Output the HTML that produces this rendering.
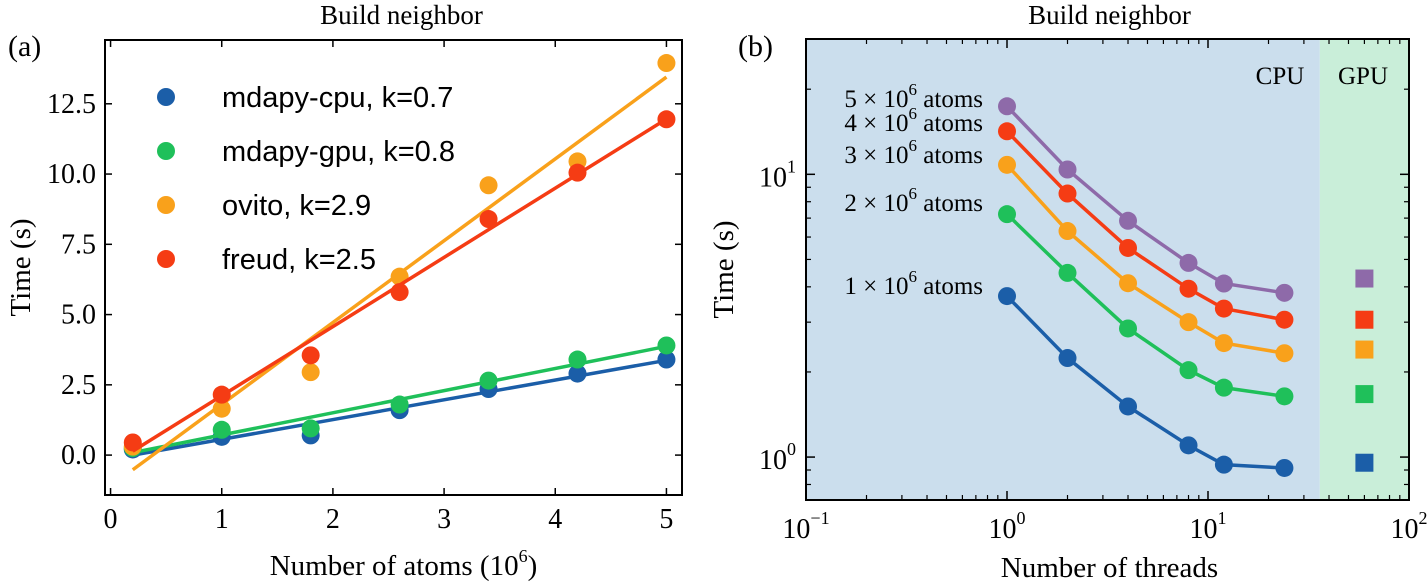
<!DOCTYPE html>
<html><head><meta charset="utf-8"><style>
html,body{margin:0;padding:0;background:#fff;}
svg{display:block;font-family:"Liberation Serif",serif;}
</style></head><body>
<svg id="chart" width="1428" height="583" viewBox="0 0 1428 583" xmlns="http://www.w3.org/2000/svg">
<g id="pa"></g>
<g id="pb"></g>
</svg>
<script>
// ---- Panel (a) data ----
const atomsX = [0.2, 1, 1.8, 2.6, 3.4, 4.2, 5];
const cpuTimes = [0.2, 0.65, 0.7, 1.6, 2.35, 2.9, 3.4];
const gpuTimes = [0.25, 0.9, 0.95, 1.8, 2.65, 3.4, 3.9];
const ovitoTimes = [0.3, 1.65, 2.95, 6.35, 9.6, 10.45, 13.95];
const freudTimes = [0.45, 2.15, 3.55, 5.8, 8.4, 10.05, 11.95];
const seriesLabelsA = ["mdapy-cpu, k=0.7", "mdapy-gpu, k=0.8", "ovito, k=2.9", "freud, k=2.5"];
const xTicksA = [0, 1, 2, 3, 4, 5];
const yTicksA = [0, 2.5, 5, 7.5, 10, 12.5];
// ---- Panel (b) data ----
const threads = [1, 2, 4, 8, 12, 24];
const t1M = [3.71, 2.24, 1.51, 1.10, 0.94, 0.915];
const t2M = [7.23, 4.48, 2.85, 2.03, 1.76, 1.64];
const t3M = [10.8, 6.3, 4.12, 3.0, 2.53, 2.33];
const t4M = [14.2, 8.55, 5.49, 3.94, 3.35, 3.06];
const t5M = [17.4, 10.4, 6.85, 4.86, 4.11, 3.81];
const gpuB = [0.955, 1.67, 2.40, 3.06, 4.28];
const gpuX = 60;
const atomLabels = ["1", "2", "3", "4", "5"];

const NS = "http://www.w3.org/2000/svg";
function mk(parent, tag, attrs, text) {
  const e = document.createElementNS(NS, tag);
  for (const k in attrs) e.setAttribute(k, attrs[k]);
  if (text !== undefined) e.textContent = text;
  parent.appendChild(e);
  return e;
}
const cols = ["#1b5ea8", "#1fc05a", "#f9a11b", "#f53c14", "#8e6aa9"];

// ===== Panel A =====
const pa = document.getElementById("pa");
const A = {l:105, r:682, t:40, b:495, xmin:-0.05, xmax:5.14, ymin:-1.42, ymax:14.77};
const ax = v => A.l + (v - A.xmin) / (A.xmax - A.xmin) * (A.r - A.l);
const ay = v => A.b - (v - A.ymin) / (A.ymax - A.ymin) * (A.b - A.t);
let t = mk(pa, "text", {x:(A.l+A.r)/2+8, y:24, "text-anchor":"middle", "font-size":27}, "Build neighbor");


t = mk(pa, "text", {x:8, y:56, "font-size":30}, "(a)");


xTicksA.forEach(v => {
  const x = ax(v);
  let l = mk(pa, "line", {x1:x, x2:x, y1:A.b, y2:A.b-7, stroke:"#000", "stroke-width":1.5});
  
  
  l = mk(pa, "line", {x1:x, x2:x, y1:A.t, y2:A.t+7, stroke:"#000", "stroke-width":1.5});
  
  
  const tx = mk(pa, "text", {x:x, y:528, "text-anchor":"middle", "font-size":28}, String(v));
  
  
});
yTicksA.forEach(v => {
  const y = ay(v);
  let l = mk(pa, "line", {x1:A.l, x2:A.l+7, y1:y, y2:y, stroke:"#000", "stroke-width":1.5});
  
  
  l = mk(pa, "line", {x1:A.r, x2:A.r-7, y1:y, y2:y, stroke:"#000", "stroke-width":1.5});
  
  
  const tx = mk(pa, "text", {x:A.l-9, y:y+9, "text-anchor":"end", "font-size":28}, v.toFixed(1));
  
  
});
t = mk(pa, "text", {x:(A.l+A.r)/2+10, y:575, "text-anchor":"middle", "font-size":29}, "");


mk(t, "tspan", {}, "Number of atoms (10");
mk(t, "tspan", {dy:-13, "font-size":18}, "6");
mk(t, "tspan", {dy:13}, ")");
t = mk(pa, "text", {x:0, y:0, transform:"translate(30,"+((A.t+A.b)/2)+") rotate(-90)", "text-anchor":"middle", "font-size":29}, "Time (s)");



const seriesA = [cpuTimes, gpuTimes, ovitoTimes, freudTimes];
const colA = [cols[0], cols[1], cols[2], cols[3]];
seriesA.forEach((ys, i) => {
  const n = atomsX.length;
  const mx = atomsX.reduce((a,b)=>a+b,0)/n, my = ys.reduce((a,b)=>a+b,0)/n;
  let sxy=0, sxx=0;
  atomsX.forEach((x,j)=>{sxy+=(x-mx)*(ys[j]-my); sxx+=(x-mx)*(x-mx);});
  const k = sxy/sxx, b0 = my - k*mx;
  const x0 = atomsX[0], x1 = atomsX[n-1];
  const g = mk(pa, "g", {});
  
  
  const ln = mk(g, "line", {x1:ax(x0), y1:ay(k*x0+b0), x2:ax(x1), y2:ay(k*x1+b0), stroke:colA[i], "stroke-width":3.5});
  
  
  ys.forEach((v,j) => {
    const c = mk(g, "circle", {cx:ax(atomsX[j]), cy:ay(v), r:9, fill:colA[i]});
    
    
  });
  const ly = 97 + i*54;
  const lc = mk(pa, "circle", {cx:166, cy:ly, r:9, fill:colA[i]});
  
  
  const lt = mk(pa, "text", {x:222, y:ly+10, "font-size":29, "font-family":"Liberation Sans, sans-serif"}, seriesLabelsA[i]);
  
  
});
let fr = mk(pa, "rect", {x:A.l, y:A.t, width:A.r-A.l, height:A.b-A.t, fill:"none", stroke:"#000", "stroke-width":2});



// ===== Panel B =====
const pb = document.getElementById("pb");
const B = {l:806, r:1409, t:39, b:500, lxmin:-1, lxmax:2, lymin:Math.log10(0.705), lymax:Math.log10(30.1)};
const bx = v => B.l + (Math.log10(v) - B.lxmin) / (B.lxmax - B.lxmin) * (B.r - B.l);
const by = v => B.b - (Math.log10(v) - B.lymin) / (B.lymax - B.lymin) * (B.b - B.t);
const split = bx(36);
let r = mk(pb, "rect", {x:B.l, y:B.t, width:split-B.l, height:B.b-B.t, fill:"#cbdeed"});


r = mk(pb, "rect", {x:split, y:B.t, width:B.r-split, height:B.b-B.t, fill:"#c9eed9"});


t = mk(pb, "text", {x:(B.l+B.r)/2+2, y:24, "text-anchor":"middle", "font-size":27}, "Build neighbor");


t = mk(pb, "text", {x:738, y:56, "font-size":30}, "(b)");


for (let e=-1; e<=2; e++) {
  const x = bx(Math.pow(10,e));
  [[B.b,B.b-9],[B.t,B.t+9]].forEach(p => {
    const l = mk(pb, "line", {x1:x, x2:x, y1:p[0], y2:p[1], stroke:"#000", "stroke-width":1.5});
    
    
  });
  const tx = mk(pb, "text", {x:x, y:538, "text-anchor":"middle", "font-size":28}, "");
  
  
  mk(tx, "tspan", {}, "10");
  mk(tx, "tspan", {dy:-14, "font-size":18}, String(e).replace("-", "\u2212"));
  if (e < 2) for (let m=2; m<=9; m++) {
    const xm = bx(m*Math.pow(10,e));
    [[B.b,B.b-5],[B.t,B.t+5]].forEach(p => {
      const l = mk(pb, "line", {x1:xm, x2:xm, y1:p[0], y2:p[1], stroke:"#000", "stroke-width":1.2});
      
      
    });
  }
}
[1,10].forEach(v => {
  const y = by(v);
  [[B.l,B.l+9],[B.r,B.r-9]].forEach(p => {
    const l = mk(pb, "line", {x1:p[0], x2:p[1], y1:y, y2:y, stroke:"#000", "stroke-width":1.5});
    
    
  });
  const tx = mk(pb, "text", {x:B.l-10, y:y+12, "text-anchor":"end", "font-size":28}, "");
  
  
  mk(tx, "tspan", {}, "10");
  mk(tx, "tspan", {dy:-14, "font-size":18}, v===1?"0":"1");
});
[0.8,0.9,2,3,4,5,6,7,8,9,20,30].forEach(v => {
  const y = by(v);
  if (y < B.t || y > B.b) return;
  [[B.l,B.l+5],[B.r,B.r-5]].forEach(p => {
    const l = mk(pb, "line", {x1:p[0], x2:p[1], y1:y, y2:y, stroke:"#000", "stroke-width":1.2});
    
    
  });
});
t = mk(pb, "text", {x:(B.l+B.r)/2+2, y:577, "text-anchor":"middle", "font-size":29}, "Number of threads");


t = mk(pb, "text", {x:0, y:0, transform:"translate(733,"+((B.t+B.b)/2)+") rotate(-90)", "text-anchor":"middle", "font-size":29}, "Time (s)");


t = mk(pb, "text", {x:1280, y:84, "text-anchor":"middle", "font-size":25}, "CPU");


t = mk(pb, "text", {x:1363, y:84, "text-anchor":"middle", "font-size":25}, "GPU");



const seriesB = [t1M, t2M, t3M, t4M, t5M];
const labelY = [294, 211, 163, 131, 107];
seriesB.forEach((ys, i) => {
  const g = mk(pb, "g", {});
  
  
  const pts = ys.map((v,j) => bx(threads[j]) + "," + by(v)).join(" ");
  const pl = mk(g, "polyline", {points:pts, fill:"none", stroke:cols[i], "stroke-width":3.5});
  
  
  ys.forEach((v,j) => {
    const c = mk(g, "circle", {cx:bx(threads[j]), cy:by(v), r:9, fill:cols[i]});
    
    
  });
  const sq = mk(g, "rect", {x:bx(gpuX)-9, y:by(gpuB[i])-9, width:18, height:18, fill:cols[i]});
  
  
  const lt = mk(pb, "text", {x:983, y:labelY[i], "text-anchor":"end", "font-size":25}, "");
  
  
  mk(lt, "tspan", {}, atomLabels[i] + " \u00d7 10");
  mk(lt, "tspan", {dy:-12, "font-size":17}, "6");
  mk(lt, "tspan", {dy:12}, " atoms");
});
fr = mk(pb, "rect", {x:B.l, y:B.t, width:B.r-B.l, height:B.b-B.t, fill:"none", stroke:"#000", "stroke-width":2});


</script>
</body></html>
